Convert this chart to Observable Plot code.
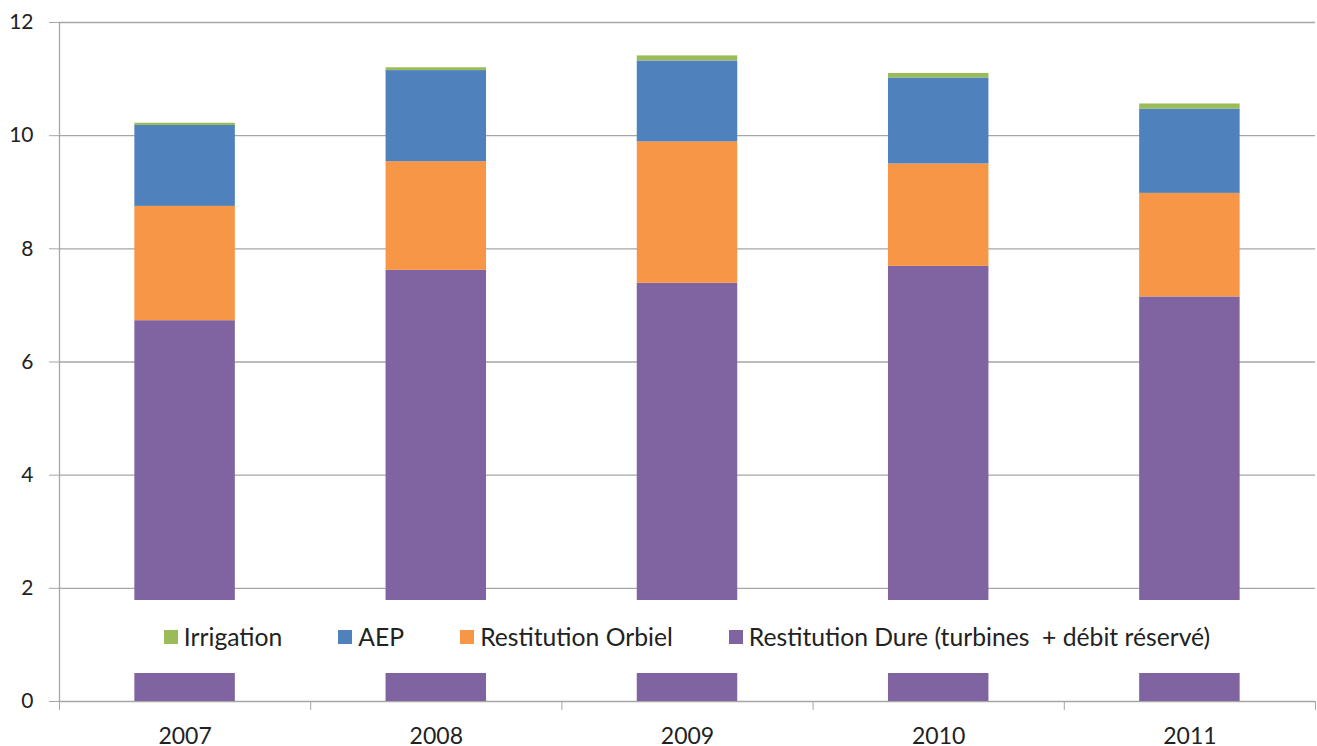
<!DOCTYPE html>
<html><head><meta charset="utf-8">
<script src="https://cdn.jsdelivr.net/npm/d3@7"></script>
<script src="https://cdn.jsdelivr.net/npm/@observablehq/plot@0.6"></script>
<style>
body{margin:0;background:#fff;}
#wrap{position:relative;width:1317px;height:746px;font-family:Lato,sans-serif;}
#legend{position:absolute;left:62px;width:1250px;top:600px;height:73px;background:#fff;display:flex;justify-content:center;align-items:center;gap:56px;font-size:24.7px;color:#222;}
.item{display:flex;align-items:center;white-space:pre;}
.sw{width:14px;height:14px;margin-right:6px;}
</style></head><body><div id="wrap"></div>
<script>
const years = [2007, 2008, 2009, 2010, 2011];
const series = ["Restitution Dure (turbines  + débit réservé)", "Restitution Orbiel", "AEP", "Irrigation"];
const dure = [6.73, 7.62, 7.39, 7.69, 7.15];
const orbiel = [2.02, 1.92, 2.50, 1.81, 1.83];
const aep = [1.43, 1.61, 1.43, 1.52, 1.49];
const irrigation = [0.04, 0.05, 0.09, 0.08, 0.09];
const colors = ["#8064A2", "#F79646", "#4F81BD", "#9BBB59"];
const yTicks = [0, 2, 4, 6, 8, 10, 12];
const legendOrder = ["Irrigation", "AEP", "Restitution Orbiel", "Restitution Dure (turbines  + débit réservé)"];

const valueArrays = [dure, orbiel, aep, irrigation];
const rows = years.flatMap((yr, i) => valueArrays.map((arr, k) => ({year: yr, series: series[k], value: arr[i]})));
const boundaries = [years[0] - 0.5, ...years.map(y => y + 0.5)];
const half = 0.2;
const grid = "#a6a6a6";

const chart = Plot.plot({
  width: 1317, height: 746,
  marginLeft: 59, marginRight: 2, marginTop: 22, marginBottom: 45,
  style: {fontFamily: "Lato, sans-serif", color: "#222", background: "white", overflow: "visible"},
  x: {type: "linear", domain: [boundaries[0], boundaries[boundaries.length - 1]], label: null},
  y: {domain: [0, 12], label: null},
  color: {domain: series, range: colors},
  marks: [
    Plot.ruleY(yTicks, {stroke: grid, strokeWidth: 1.3}),
    Plot.rectY(rows, Plot.stackY({x1: d => d.year - half, x2: d => d.year + half, y: "value", fill: "series"})),
    Plot.ruleX([boundaries[0]], {y1: 0, y2: 12, stroke: grid, strokeWidth: 1.3}),
    Plot.axisY(yTicks, {label: null, tickSize: 10, tickPadding: 16, fontSize: 21, stroke: grid, strokeOpacity: 1, fill: "#222", tickFormat: d => String(d)}),
    Plot.axisX(boundaries, {label: null, tickSize: 9, stroke: grid, strokeOpacity: 1, tickFormat: () => ""}),
    Plot.axisX(years, {label: null, tickSize: 0, tickPadding: 26, fontSize: 23, fill: "#222", tickFormat: d => String(d)})
  ]
});
const wrap = document.getElementById("wrap");
wrap.appendChild(chart);

const legend = document.createElement("div");
legend.id = "legend";
legendOrder.forEach(name => {
  const item = document.createElement("div");
  item.className = "item";
  const sw = document.createElement("span");
  sw.className = "sw";
  sw.style.background = colors[series.indexOf(name)];
  const label = document.createElement("span");
  label.textContent = name;
  item.appendChild(sw);
  item.appendChild(label);
  legend.appendChild(item);
});
wrap.appendChild(legend);
</script>
</body></html>
